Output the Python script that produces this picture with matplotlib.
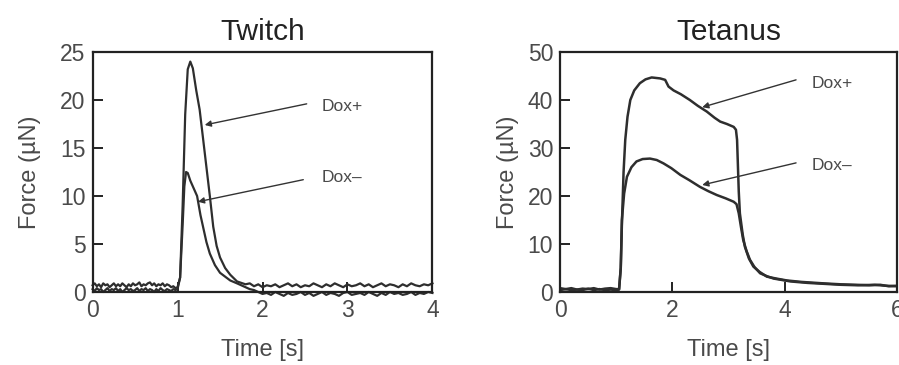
import matplotlib.pyplot as plt

plt.rcParams['font.family'] = ['Liberation Sans', 'DejaVu Sans']

# Twitch traces (time in s, force in uN)
tw_t_plus = [0.0, 0.025, 0.05, 0.075, 0.1, 0.125, 0.15, 0.175, 0.2, 0.225, 0.25, 0.275,
             0.3, 0.325, 0.35, 0.375, 0.4, 0.425, 0.45, 0.475, 0.5, 0.525, 0.55, 0.575,
             0.6, 0.625, 0.65, 0.675, 0.7, 0.725, 0.75, 0.775, 0.8, 0.825, 0.85, 0.875,
             0.9, 0.925, 0.95, 0.975, 1.0, 1.03, 1.06, 1.09, 1.12, 1.15, 1.18, 1.22,
             1.26, 1.3, 1.34, 1.38, 1.42, 1.46, 1.5, 1.56, 1.62, 1.7, 1.8, 1.85, 1.9, 1.95,
             2.0, 2.05, 2.1, 2.15, 2.2, 2.25, 2.3, 2.35, 2.4, 2.45, 2.5, 2.55, 2.6, 2.65,
             2.7, 2.75, 2.8, 2.85, 2.9, 2.95, 3.0, 3.05, 3.1, 3.15, 3.2, 3.25, 3.3, 3.35,
             3.4, 3.45, 3.5, 3.55, 3.6, 3.65, 3.7, 3.75, 3.8, 3.85, 3.9, 3.95, 4.0]
tw_f_plus = [0.7, 0.9, 0.6, 0.8, 0.5, 0.9, 0.7, 0.8, 0.5, 0.7, 0.9, 0.6,
             0.8, 0.6, 0.9, 0.7, 0.5, 0.8, 0.6, 0.9, 0.7, 0.8, 1.0, 0.6,
             0.8, 0.7, 0.9, 1.0, 0.7, 0.9, 0.6, 0.8, 0.7, 0.9, 0.6, 0.8,
             0.7, 0.5, 0.6, 0.4, 0.5, 1.5, 9.0, 18.5, 23.2, 24.0, 23.3, 21.0,
             19.0, 16.0, 13.0, 10.0, 6.8, 4.8, 3.6, 2.5, 1.8, 1.1, 0.8, 0.9, 0.6, 0.8,
             0.5, 0.7, 0.6, 0.8, 0.5, 0.7, 0.9, 0.6, 0.8, 0.5, 0.7, 0.6, 0.9, 0.7,
             0.5, 0.8, 0.6, 0.9, 0.7, 0.5, 0.8, 0.6, 0.7, 0.9, 0.6, 0.8, 0.5, 0.7,
             0.9, 0.6, 0.8, 0.7, 0.5, 0.8, 0.6, 0.9, 0.7, 0.6, 0.8, 0.7, 0.9]
tw_t_minus = [0.0, 0.025, 0.05, 0.075, 0.1, 0.125, 0.15, 0.175, 0.2, 0.225, 0.25, 0.275,
              0.3, 0.325, 0.35, 0.375, 0.4, 0.425, 0.45, 0.475, 0.5, 0.525, 0.55, 0.575,
              0.6, 0.625, 0.65, 0.675, 0.7, 0.725, 0.75, 0.775, 0.8, 0.825, 0.85, 0.875,
              0.9, 0.925, 0.95, 0.975, 1.0, 1.03, 1.06, 1.08, 1.1, 1.12, 1.15, 1.19,
              1.23, 1.27, 1.3, 1.34, 1.38, 1.44, 1.5, 1.56, 1.62, 1.7, 1.8, 1.85, 1.9, 1.95,
              2.0, 2.05, 2.1, 2.15, 2.2, 2.25, 2.3, 2.35, 2.4, 2.45, 2.5, 2.55, 2.6, 2.65,
              2.7, 2.75, 2.8, 2.85, 2.9, 2.95, 3.0, 3.05, 3.1, 3.15, 3.2, 3.25, 3.3, 3.35,
              3.4, 3.45, 3.5, 3.55, 3.6, 3.65, 3.7, 3.75, 3.8, 3.85, 3.9, 3.95, 4.0]
tw_f_minus = [0.3, 0.1, 0.4, 0.2, 0.3, 0.0, 0.2, 0.4, 0.1, 0.3, 0.2, 0.4,
              0.1, 0.3, 0.0, 0.2, 0.4, 0.2, 0.3, 0.1, 0.2, 0.4, 0.1, 0.3,
              0.2, 0.4, 0.1, 0.3, 0.2, 0.0, 0.3, 0.1, 0.4, 0.2, 0.1, 0.3,
              0.2, 0.1, 0.3, 0.2, 0.3, 1.5, 7.0, 11.0, 12.5, 12.4, 11.6, 10.8,
              10.0, 8.0, 6.8, 5.2, 4.0, 2.8, 2.0, 1.6, 1.2, 0.9, 0.5, 0.3, 0.2, 0.0,
              -0.2, -0.1, -0.3, 0.0, -0.2, -0.4, -0.1, -0.3, -0.2, 0.0, -0.3, -0.1, -0.4, -0.2,
              0.0, -0.3, -0.1, -0.2, -0.4, -0.1, 0.0, -0.3, -0.2, -0.1, -0.3, 0.0, -0.2, -0.4,
              -0.1, -0.3, 0.0, -0.2, -0.1, -0.3, -0.2, 0.0, -0.3, -0.1, -0.2, 0.0, -0.1]

# Tetanus traces
te_t_plus = [0.0, 0.1, 0.2, 0.3, 0.4, 0.5, 0.6, 0.7, 0.8, 0.9, 1.0, 1.05, 1.08, 1.1,
             1.13, 1.16, 1.2, 1.25, 1.32, 1.42, 1.52, 1.63, 1.78, 1.87, 1.93, 2.02, 2.15,
             2.31, 2.45, 2.61, 2.75, 2.85, 2.97, 3.09, 3.13, 3.15, 3.18, 3.2, 3.25, 3.29,
             3.36, 3.44, 3.55, 3.68, 3.85, 4.04, 4.3, 4.69, 5.0, 5.28, 5.5, 5.7, 5.85, 6.0]
te_f_plus = [0.8, 0.6, 0.8, 0.5, 0.7, 0.6, 0.8, 0.5, 0.7, 0.8, 0.6, 0.6, 5.0, 14.0,
             25.0, 31.7, 36.5, 40.0, 42.0, 43.5, 44.3, 44.7, 44.5, 44.2, 42.8, 42.0, 41.2,
             40.0, 38.8, 37.6, 36.3, 35.5, 35.0, 34.4, 33.8, 31.7, 21.0, 16.4, 12.0, 9.4,
             7.0, 5.3, 4.2, 3.2, 2.8, 2.4, 2.1, 1.8, 1.6, 1.5, 1.4, 1.5, 1.2, 1.3]
te_t_minus = [0.0, 0.1, 0.2, 0.3, 0.4, 0.5, 0.6, 0.7, 0.8, 0.9, 1.0, 1.05, 1.08, 1.1,
              1.14, 1.19, 1.27, 1.36, 1.47, 1.6, 1.72, 1.84, 1.98, 2.14, 2.3, 2.49, 2.64,
              2.79, 2.95, 3.09, 3.14, 3.18, 3.22, 3.26, 3.32, 3.38, 3.46, 3.56, 3.68, 3.8,
              3.95, 4.1, 4.4, 4.7, 5.0, 5.3, 5.6, 5.8, 6.0]
te_f_minus = [0.4, 0.6, 0.4, 0.5, 0.4, 0.7, 0.4, 0.6, 0.4, 0.5, 0.4, 0.5, 5.0, 15.0,
              20.5, 24.0, 26.0, 27.2, 27.7, 27.8, 27.5, 26.8, 25.8, 24.4, 23.3, 21.9, 21.0,
              20.2, 19.5, 18.8, 18.3, 16.4, 13.5, 10.8, 8.5, 6.7, 5.2, 3.9, 3.3, 2.8,
              2.5, 2.2, 1.9, 1.7, 1.5, 1.4, 1.5, 1.3, 1.2]

line_col = '#2e2e2e'
text_col = '#4a4a4a'

fig = plt.figure(figsize=(8.99, 3.65), dpi=100)
ax1 = fig.add_axes([0.103, 0.2, 0.378, 0.6575])
ax2 = fig.add_axes([0.623, 0.2, 0.375, 0.6575])


def style(ax, title, ypad):
    for s in ax.spines.values():
        s.set_linewidth(1.6)
        s.set_color('#222222')
    ax.tick_params(direction='in', length=7, width=1.4, color='#222222',
                   labelsize=16.5, labelcolor=text_col, pad=5)
    ax.set_title(title, fontsize=21.5, color='#222222', pad=9)
    ax.set_xlabel('Time [s]', fontsize=17, color=text_col, labelpad=12)
    ax.set_ylabel('Force (\u00b5N)', fontsize=17, color=text_col, labelpad=ypad)


ax1.plot(tw_t_plus, tw_f_plus, color=line_col, lw=1.6, clip_on=False)
ax1.plot(tw_t_minus, tw_f_minus, color=line_col, lw=1.6, clip_on=False)
ax1.set_xlim(0, 4)
ax1.set_ylim(0, 25)
ax1.set_xticks([0, 1, 2, 3, 4])
ax1.set_yticks([0, 5, 10, 15, 20, 25])
style(ax1, 'Twitch', 14)

ax2.plot(te_t_plus, te_f_plus, color=line_col, lw=1.8)
ax2.plot(te_t_minus, te_f_minus, color=line_col, lw=1.8)
ax2.set_xlim(0, 6)
ax2.set_ylim(0, 50)
ax2.set_xticks([0, 2, 4, 6])
ax2.set_yticks([0, 10, 20, 30, 40, 50])
style(ax2, 'Tetanus', 6)

arrow = dict(arrowstyle='-|>', color='#333333', lw=1.0, mutation_scale=9, shrinkA=0, shrinkB=0)
ax1.annotate('', xy=(1.32, 17.4), xytext=(2.52, 19.6), arrowprops=arrow)
ax1.annotate('', xy=(1.24, 9.4), xytext=(2.48, 11.7), arrowprops=arrow)
ax1.text(2.7, 19.3, 'Dox+', fontsize=12.5, color=text_col, va='center')
ax1.text(2.7, 11.9, 'Dox\u2013', fontsize=12.5, color=text_col, va='center')

ax2.annotate('', xy=(2.53, 38.5), xytext=(4.2, 44.2), arrowprops=arrow)
ax2.annotate('', xy=(2.53, 22.3), xytext=(4.2, 26.9), arrowprops=arrow)
ax2.text(4.48, 43.5, 'Dox+', fontsize=12.5, color=text_col, va='center')
ax2.text(4.48, 26.4, 'Dox\u2013', fontsize=12.5, color=text_col, va='center')

fig.savefig('out.png', dpi=100)
